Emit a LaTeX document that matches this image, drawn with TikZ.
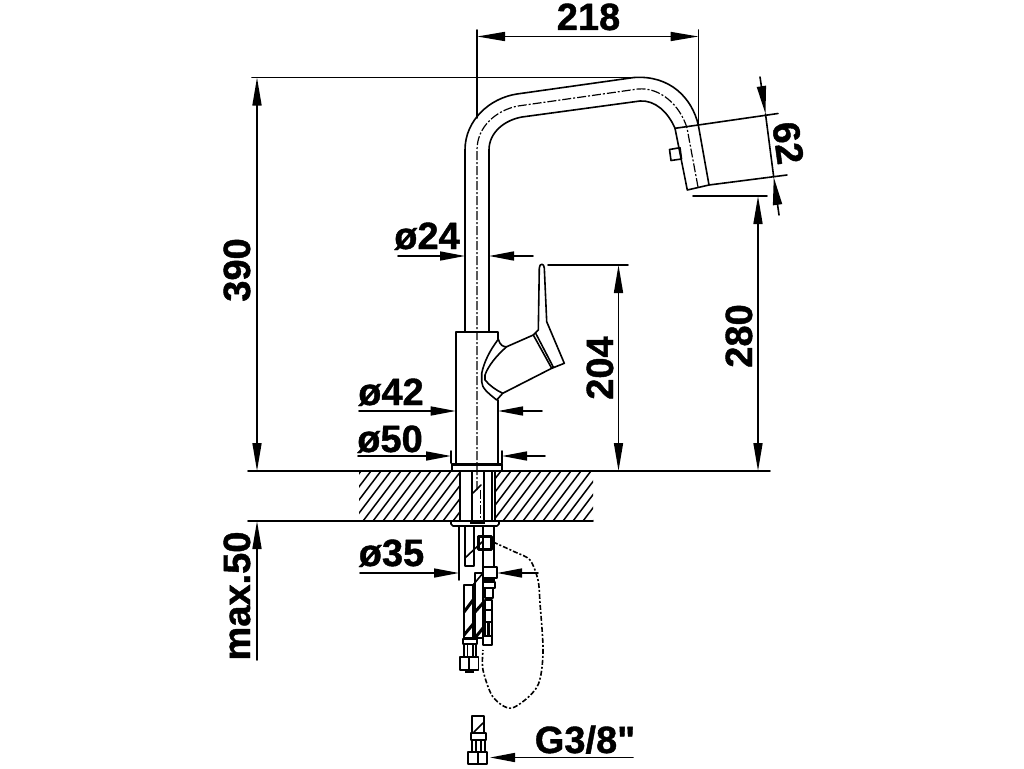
\documentclass[tikz,border=0pt]{standalone}
\usepackage{fontspec}
\newfontfamily\dimfont[FakeBold=1.1]{Liberation Sans Bold}
\usetikzlibrary{arrows.meta}

\begin{document}
\begin{tikzpicture}[line cap=round,line join=round,x=1pt,y=-1pt,line width=1.6pt,
  >={Triangle[length=28pt,width=9pt]},
  shortdim/.style={>={Triangle[length=25pt,width=9pt]}},
  axisline/.style={line width=1.2pt,line cap=butt,dash pattern=on 9pt off 2pt on 2pt off 2pt},
  wireline/.style={line width=1.6pt,line cap=butt,dash pattern=on 5pt off 2pt on 2pt off 2pt},
  heavy/.style={line width=3pt,line cap=butt},
  dimtext/.style={font=\fontsize{38}{40}\dimfont,inner sep=0pt,anchor=base}]
\useasboundingbox (0,0) rectangle (1024,768);

% spout
\draw (465,332) -- (465,150) .. controls (465,120) and (490,98) .. (517,94)
  -- (634,77.5) .. controls (670,75) and (692,98) .. (698.3,125);
\draw (489,332) -- (489,150) .. controls (489,132) and (505,120) .. (522,117)
  -- (640,101) .. controls (655,100) and (668,112) .. (675,128.3);
\draw [axisline] (477,490) -- (477,150) .. controls (477,126) and (497,110) .. (518,106)
  -- (638,89) .. controls (660,87) and (680,105) .. (687,128) -- (698,187);

% spray head
\draw (675,128.3) -- (698.3,125) -- (709,185) -- (687.3,190) -- cycle;
\draw (669.5,149.5) -- (680,147.7) -- (681.5,159) -- (671,160.5) -- cycle;

% body and collar
\draw (498,339) -- (498,332) -- (455.7,332) -- (455.7,463.5);
\draw (498,400) -- (498,463.5);
\draw (452,471) -- (452,463.5) -- (502,463.5) -- (502,471);
\draw (452,465) -- (502,465);

% lever
\draw (498.3,339.3) .. controls (500,345) and (503,347) .. (506.7,346.7)
  -- (533.3,335) -- (538.3,330) -- (539.3,268)
  .. controls (539.5,263) and (544,263) .. (544.3,268)
  -- (546.7,321.7) -- (564.3,363.3) -- (551.7,368.3) -- (502.7,393.3) -- (496.7,400)
  .. controls (488,393) and (481.7,388) .. (481.7,381.7) -- (481.7,373.3)
  .. controls (484,362) and (490,350) .. (498.3,339.3);
\draw (506.7,346.7) .. controls (497,355) and (488,366) .. (485,375) -- (485,380)
  .. controls (490,386) and (496,390) .. (502.7,393.3);
\draw (533.3,335) -- (551.7,368.3);
\draw (535.7,333.3) -- (553.5,367.5);

% worktop
\begin{scope}
  \clip (359,471) rectangle (460,521) (496,471) rectangle (593,521);
  \foreach \i in {0,...,30}
    \draw [line width=1.5pt] (300+10*\i,525) -- (344+10*\i,467);
\end{scope}
\draw (248,471) -- (770,471);
\draw (248,521) -- (593,521);

% shank in the worktop
\draw (460,471) -- (460,521);
\draw (472,471) -- (472,521);
\draw (484,471) -- (484,521);
\draw (492,471) -- (492,521);
\draw (495,471) -- (495,521);
\draw (473,493) -- (481,485);
\draw [axisline] (480.5,490) -- (480.5,519);
\draw (451,521) -- (451,524) -- (453,526) -- (497,526) -- (499,524) -- (499,521);
\draw [heavy] (470,522) -- (485,522);

% hoses under the worktop
\draw (465,526) -- (465,566) -- (474,566) -- (474,526);
\draw (465,558) -- (482,542);
\draw (483,526) -- (483,567);
\draw (494,526) -- (494,567);
\draw [heavy] (478,536) rectangle (491,549);
\draw (483,567) rectangle (497,578);
\draw [heavy] (484,580) -- (495,580);
\draw (483,582) rectangle (495,588);
\draw (485,588) rectangle (493,598);
\draw (485,600) rectangle (492,636);
\draw (485,610) -- (492,610);
\draw (485,622) -- (492,622);
\draw [heavy] (488.5,623) -- (488.5,635);
\draw (483,636) rectangle (492,645);
\draw (464,585) rectangle (473,638);
\draw (475,573) rectangle (483,638);
\draw (473,585) -- (483,573);
\draw [heavy] (464,612) -- (473,600);
\draw [heavy] (464,635) -- (474,623);
\draw [heavy] (475,612) -- (483,603);
\draw [heavy] (475,638) -- (483,628);
\draw (463,639) rectangle (477,644);
\draw (464,644) rectangle (476,657);
\draw (467.5,644) -- (467.5,657);
\draw (473,644) -- (473,657);
\draw (460,657) rectangle (478.5,670);
\draw (469,657) -- (469,670);
\draw [heavy] (465,671.5) -- (474,671.5);

% wire
\draw [wireline] plot [smooth] coordinates {(493,542) (515,552) (530,560) (538,580) (540,603)
  (543,653) (537,687) (512,708) (493,697) (483,670) (483,650)};

% connection thread
\draw (472,716) rectangle (484,733);
\draw (474,732) -- (483,723);
\draw (471,733) rectangle (486,740);
\draw (472,740) rectangle (485,752);
\draw (476,740) -- (476,752);
\draw (481,740) -- (481,752);
\draw (468,752) rectangle (487,764);
\draw (478,752) -- (478,764);

% dimension 218
\draw (477,30) -- (477,118);
\draw (698.5,30) -- (698.5,125);
\draw [<->] (477,36.5) -- (698.5,36.5);
\node (width218) [dimtext] at (588.5,30) {218};

% dimension 390
\draw (252,77.5) -- (640,77.5);
\draw [<->] (257,77.5) -- (257,471);
\node (height390) [dimtext,rotate=90] at (250,270) {390};

% dimension 62
\draw (698.3,125) -- (778,113.5);
\draw (709,185) -- (787,175);
\draw (765.5,114) -- (773.7,177);
\draw [->] (760,77) -- (765.5,114);
\draw [->] (779,215) -- (773.7,177);
\node (head62) [dimtext,rotate=-82,anchor=center] at (788,143) {62};

% dimension 280
\draw (693,196) -- (767,196);
\draw [<->] (758,196) -- (758,471);
\node (height280) [dimtext,rotate=90] at (752,336) {280};

% dimension 204
\draw (548,265) -- (628,265);
\draw [<->] (618.5,265) -- (618.5,471);
\node (height204) [dimtext,rotate=90] at (613,368) {204};

% dimension max.50
\draw [->] (257,660) -- (257,521);
\node (depth50) [dimtext,rotate=90] at (250,596) {max.50};

% diameters
\draw [->,shortdim] (398,256) -- (465,256);
\draw [->,shortdim] (533,256) -- (489,256);
\node (dia24) [dimtext] at (427,249) {ø24};

\draw [->,shortdim] (359,411) -- (455.7,411);
\draw [->,shortdim] (542,411) -- (498,411);
\node (dia42) [dimtext] at (391,405) {ø42};

\draw (451,451) -- (451,463);
\draw (502,451) -- (502,463);
\draw [->,shortdim] (358,456) -- (451,456);
\draw [->,shortdim] (545,456) -- (502,456);
\node (dia50) [dimtext] at (390,452) {ø50};

\draw (459,527) -- (459,580);
\draw [->,shortdim] (360,573) -- (459,573);
\draw [->,shortdim] (538,573) -- (497,573);
\node (dia35) [dimtext] at (391.5,566) {ø35};

% thread size
\draw [->,shortdim] (633,757.5) -- (490,757.5);
\node (thread) [dimtext] at (585,753) {G3/8"};
\end{tikzpicture}
\end{document}
